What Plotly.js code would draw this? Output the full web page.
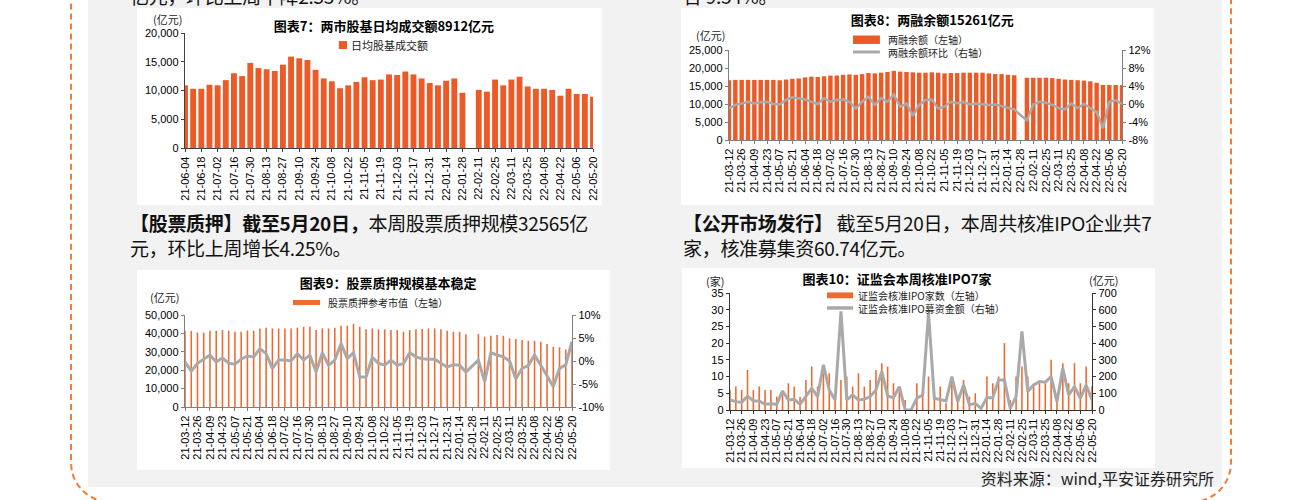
<!DOCTYPE html>
<html><head><meta charset="utf-8">
<script src="https://cdn.plot.ly/plotly-3.0.1.min.js"></script>
<style>
html,body{margin:0;padding:0;width:1311px;height:500px;overflow:hidden;background:#fff;}
body{position:relative;font-family:"Noto Sans CJK SC",sans-serif;}
#panel{position:absolute;left:88px;top:0;width:1134px;height:487px;background:#f2f2f2;}
#border{position:absolute;left:70px;top:-40px;width:1162px;height:543px;border:2px dashed #EE7E3B;border-radius:40px;box-sizing:border-box;}
.chart{position:absolute;background:#fff;}
.txt{position:absolute;font-size:19px;line-height:25px;color:#111;white-space:nowrap;letter-spacing:-0.3px;}
.txt b{font-weight:700;}
#foot{position:absolute;right:97px;top:468px;font-size:16px;line-height:20px;color:#222;white-space:nowrap;}
</style></head>
<body>
<div id="border"></div>
<div id="panel"></div>
<div class="txt" style="left:130px;top:-17px;">亿元，环比上周下降2.53%。</div>
<div class="txt" style="left:683px;top:-17px;">合 9.34%。</div>
<div class="chart" id="c7" style="left:137px;top:8px;width:465px;height:197px;"></div>
<div class="chart" id="c8" style="left:681px;top:8px;width:473px;height:197px;"></div>
<div class="txt" style="left:130px;top:210px;"><b>【股票质押】截至5月20日，</b>本周股票质押规模32565亿<br>元，环比上周增长4.25%。</div>
<div class="txt" style="left:683px;top:210px;"><b>【公开市场发行】</b> 截至5月20日，本周共核准IPO企业共7<br>家，核准募集资60.74亿元。</div>
<div class="chart" id="c9" style="left:137px;top:270px;width:473px;height:200px;"></div>
<div class="chart" id="c10" style="left:682px;top:268px;width:473px;height:200px;"></div>
<div id="foot">资料来源：wind,平安证券研究所</div>
<script>
// ---------- data ----------
const weeks = ['21-03-12','21-03-19','21-03-26','21-04-02','21-04-09','21-04-16','21-04-23','21-04-30','21-05-07','21-05-14','21-05-21','21-05-28','21-06-04','21-06-11','21-06-18','21-06-25','21-07-02','21-07-09','21-07-16','21-07-23','21-07-30','21-08-06','21-08-13','21-08-20','21-08-27','21-09-03','21-09-10','21-09-17','21-09-24','21-10-01','21-10-08','21-10-15','21-10-22','21-10-29','21-11-05','21-11-12','21-11-19','21-11-26','21-12-03','21-12-10','21-12-17','21-12-24','21-12-31','22-01-07','22-01-14','22-01-21','22-01-28','22-02-04','22-02-11','22-02-18','22-02-25','22-03-04','22-03-11','22-03-18','22-03-25','22-04-01','22-04-08','22-04-15','22-04-22','22-04-29','22-05-06','22-05-13','22-05-20'];
const tickLabels = ['21-03-12','21-03-26','21-04-09','21-04-23','21-05-07','21-05-21','21-06-04','21-06-18','21-07-02','21-07-16','21-07-30','21-08-13','21-08-27','21-09-10','21-09-24','21-10-08','21-10-22','21-11-05','21-11-19','21-12-03','21-12-17','21-12-31','22-01-14','22-01-28','22-02-11','22-02-25','22-03-11','22-03-25','22-04-08','22-04-22','22-05-06','22-05-20'];
const weeks7 = weeks.slice(12);
const tickLabels7 = tickLabels.slice(6);

// 图表7 两市股基日均成交额 (亿元)
const turnover7 = [10900,10300,10300,11000,10900,11800,13000,12500,14800,13900,13700,13400,14500,15900,15600,15300,13600,12100,11600,10400,10900,11500,12300,11800,11900,12800,12700,13300,12800,12100,11300,10900,11700,12100,9600,null,10100,9800,11900,10900,11900,12400,10700,10300,10300,10100,9100,10300,9400,9400,8912];

// 图表8 两融余额 (亿元) 与环比 (%)
const marginBal8 = [16600,16700,16700,16700,16700,16700,16700,16700,16600,16800,17000,17100,17400,17600,17500,17700,17900,17900,18100,18200,18100,18300,18600,18500,18700,18900,19200,19000,18900,18800,18700,18700,18800,18700,18500,18600,18600,18700,18700,18700,18700,18500,18300,18300,18100,18000,null,17300,17300,17300,17300,17200,17000,16800,16700,16600,16500,16300,15900,15300,15300,15300,15261];
const marginChg8 = [-1.0,-0.2,0.1,0.5,0.1,0.4,0.5,0.0,-0.1,0.9,1.5,1.3,1.0,0.5,0.0,1.3,0.5,0.9,1.0,0.5,-1.0,0.5,1.6,-0.2,1.3,0.5,2.1,-0.6,0.1,-2.6,-0.2,0.9,1.0,-1.0,-0.6,0.5,0.2,0.5,-0.1,0.1,-0.1,-0.2,-0.1,-0.5,-0.8,-1.2,-2.5,-3.6,-0.1,0.5,0.3,-0.2,-0.9,-1.2,0.1,-0.9,0.0,-0.9,-1.8,-5.4,0.5,0.8,0.0];
const tick8 = [-8,-4,0,4,8,12];
const tick8Text = ['-8%','-4%','0%','4%','8%','12%'];

// 图表9 股票质押参考市值 (亿元) 与环比 (%)
const pledgeVal9 = [41500,41300,40400,40400,41500,41500,41800,41500,40900,40900,41500,41500,42700,43100,42700,42700,42700,42700,43100,43600,43600,41800,42700,42700,43100,44200,44200,45100,43600,42200,42700,42200,42200,41800,41800,40900,41800,42200,42400,42700,42700,42200,41500,40900,40900,39600,null,39600,38200,38700,39100,38700,37300,36900,36400,36000,36000,35500,34200,32700,32400,31238,32565];
const pledgeChg9 = [-0.2,-2.2,-0.5,0.4,1.3,-0.2,0.7,-0.5,-0.7,0.4,1.1,0.9,2.7,1.6,-1.6,0.2,0.2,0.0,1.6,0.2,1.3,-2.4,1.8,-0.9,0.2,3.8,0.5,1.8,-3.5,-3.5,0.8,-0.5,-0.9,0.2,-0.9,-0.6,1.8,0.9,0.5,0.4,0.4,-0.5,-1.3,-0.8,-0.9,-2.4,-1.0,0.2,-4.5,1.8,1.3,0.9,0.0,-3.9,-1.6,-1.0,1.3,-0.8,-3.2,-5.6,-1.6,-0.8,4.25];
const tick9 = [-10,-5,0,5,10];
const tick9Text = ['-10%','-5%','0%','5%','10%'];

// 图表10 证监会核准IPO家数 与 募资金额 (亿元)
const ipoCount10 = [6,7,6,12,6,7,6,6,4,5,8,7,4,9,13,7,11,11,3,9,10,7,11,7,9,12,14,13,8,6,3,0,8,5,10,4,7,2,9,4,9,4,5,1,10,8,10,20,3,10,13,10,7,8,8,15,4,14,8,14,8,13,7];
const ipoFunds10 = [60,50,46,84,54,54,34,38,34,114,60,64,34,84,130,80,270,120,60,590,60,90,60,64,80,120,230,84,74,140,0,0,70,90,580,70,60,54,200,50,150,30,40,10,74,74,180,180,10,80,470,110,150,170,166,200,50,250,90,140,70,150,60.74];

// ---------- styles ----------
const ORANGE = '#EC5B27';
const GREY = '#A9A9A9';
const CJK = 'Noto Sans CJK SC';
const LAT = 'Liberation Sans, Noto Sans CJK SC';
const cfg = {staticPlot:true, displayModeBar:false};

function ann(text, x, y, anchor, size, extra){
  return Object.assign({text:text, xref:'paper', yref:'paper', x:x, y:y, xanchor:anchor||'center', yanchor:'middle', showarrow:false, borderpad:0, font:{family:CJK, size:size||11, color:'#222'}}, extra||{});
}
function rect(x0,x1,y0,y1,color){
  return {type:'rect', xref:'paper', yref:'paper', x0:x0, x1:x1, y0:y0, y1:y1, fillcolor:color, line:{width:0}};
}
function hline(x0,x1,y,color,w){
  return {type:'line', xref:'paper', yref:'paper', x0:x0, x1:x1, y0:y, y1:y, line:{color:color, width:w}};
}
function title(text,x,y){
  return {text:'<b>'+text+'</b>', font:{family:CJK, size:13, color:'#000'}, x:x, xanchor:'center', xref:'container', y:y, yref:'container', yanchor:'middle'};
}
function xax(ticks, lastIdx, lc, fs){
  return {type:'category', range:[0,lastIdx], autorange:false, tickmode:'array', tickvals:ticks, ticktext:ticks, tickangle:-90,
    showline:true, linecolor:lc, linewidth:1.2, ticks:'outside', ticklen:3, tickcolor:lc, showgrid:false, zeroline:false,
    tickfont:{family:LAT, size:fs||11, color:'#000'}};
}
function yax(range, dtick, lc, extra){
  return Object.assign({range:range, autorange:false, dtick:dtick, tickformat:',', showline:true, linecolor:lc, linewidth:1.2,
    ticks:'outside', ticklen:3, tickcolor:lc, showgrid:false, zeroline:false, tickfont:{family:LAT, size:11, color:'#000'}}, extra||{});
}

// ---------- 图表7 ----------
Plotly.newPlot('c7', [
  {type:'bar', x:weeks7, y:turnover7, name:'日均股基成交额', marker:{color:ORANGE}, width:0.72, hoverinfo:'skip'}
], {
  width:465, height:197, margin:{l:48, r:9, t:25, b:57},
  paper_bgcolor:'#fff', plot_bgcolor:'#fff', showlegend:false,
  font:{family:LAT, size:11, color:'#000'},
  title:title('图表7：两市股基日均成交额8912亿元', 0.531, 0.904),
  xaxis:xax(tickLabels7, 50, '#404040', 11),
  yaxis:yax([0,20000], 5000, '#404040'),
  annotations:[
    ann('(亿元)', -0.044, 1.122, 'center', 11),
    ann('日均股基成交额', 0.404, 0.896, 'left', 11)
  ],
  shapes:[ rect(0.377, 0.397, 0.861, 0.930, ORANGE) ]
}, cfg);

// ---------- 图表8 ----------
Plotly.newPlot('c8', [
  {type:'bar', x:weeks, y:marginBal8, name:'两融余额（左轴）', marker:{color:ORANGE}, width:0.7, hoverinfo:'skip'},
  {type:'scatter', mode:'lines', x:weeks, y:marginChg8, name:'两融余额环比（右轴）', yaxis:'y2', line:{color:GREY, width:2.5}, hoverinfo:'skip'}
], {
  width:473, height:197, margin:{l:48, r:32, t:42, b:65},
  paper_bgcolor:'#fff', plot_bgcolor:'#fff', showlegend:false,
  font:{family:LAT, size:11, color:'#000'},
  title:title('图表8：两融余额15261亿元', 0.531, 0.939),
  xaxis:xax(tickLabels, 62, '#7f7f7f', 11),
  yaxis:yax([0,25000], 5000, '#7f7f7f'),
  yaxis2:yax([-8,12], 4, '#7f7f7f', {overlaying:'y', side:'right', tickmode:'array', tickvals:tick8, ticktext:tick8Text}),
  annotations:[
    ann('(亿元)', -0.048, 1.167, 'center', 11),
    ann('两融余额（左轴）<br>两融余额环比（右轴）', 0.402, 1.05, 'left', 10, {align:'left'})
  ],
  shapes:[ rect(0.3155, 0.384, 1.067, 1.161, ORANGE), hline(0.3155, 0.384, 0.978, GREY, 3) ]
}, cfg);

// ---------- 图表9 ----------
Plotly.newPlot('c9', [
  {type:'bar', x:weeks, y:pledgeVal9, name:'股票质押参考市值（左轴）', marker:{color:'#EE6A30'}, width:0.25, hoverinfo:'skip'},
  {type:'scatter', mode:'lines', x:weeks, y:pledgeChg9, name:'环比（右轴）', yaxis:'y2', line:{color:GREY, width:3}, hoverinfo:'skip'}
], {
  width:473, height:200, margin:{l:48, r:38, t:45, b:63},
  paper_bgcolor:'#fff', plot_bgcolor:'#fff', showlegend:false,
  font:{family:LAT, size:11, color:'#000'},
  title:title('图表9：股票质押规模基本稳定', 0.531, 0.935),
  xaxis:xax(tickLabels, 62, '#7f7f7f', 11),
  yaxis:yax([0,50000], 10000, '#7f7f7f'),
  yaxis2:yax([-10,10], 5, '#7f7f7f', {overlaying:'y', side:'right', tickmode:'array', tickvals:tick9, ticktext:tick9Text}),
  annotations:[
    ann('(亿元)', -0.052, 1.196, 'center', 11),
    ann('股票质押参考市值（左轴）', 0.367, 1.141, 'left', 10)
  ],
  shapes:[ rect(0.279, 0.349, 1.109, 1.163, '#EE6A30') ]
}, cfg);

// ---------- 图表10 ----------
Plotly.newPlot('c10', [
  {type:'bar', x:weeks, y:ipoCount10, name:'证监会核准IPO家数（左轴）', marker:{color:'#EE6A30'}, width:0.27, hoverinfo:'skip'},
  {type:'scatter', mode:'lines', x:weeks, y:ipoFunds10, name:'证监会核准IPO募资金额（右轴）', yaxis:'y2', line:{color:GREY, width:3}, hoverinfo:'skip'}
], {
  width:473, height:200, margin:{l:48, r:63, t:25, b:58},
  paper_bgcolor:'#fff', plot_bgcolor:'#fff', showlegend:false,
  font:{family:LAT, size:11, color:'#000'},
  title:title('图表10：证监会本周核准IPO7家', 0.4545, 0.945),
  xaxis:xax(tickLabels, 62, '#333', 11),
  yaxis:yax([0,35], 5, '#333'),
  yaxis2:yax([0,700], 100, '#333', {overlaying:'y', side:'right'}),
  annotations:[
    ann('(家)', -0.041, 1.103, 'center', 11),
    ann('(亿元)', 1.033, 1.111, 'center', 11),
    ann('证监会核准IPO家数（左轴）<br>证监会核准IPO募资金额（右轴）', 0.351, 0.927, 'left', 10, {align:'left'})
  ],
  shapes:[ rect(0.268, 0.340, 0.955, 1.005, '#EE6A30'), hline(0.268, 0.340, 0.872, GREY, 3.5) ]
}, cfg);
</script>
</body></html>
